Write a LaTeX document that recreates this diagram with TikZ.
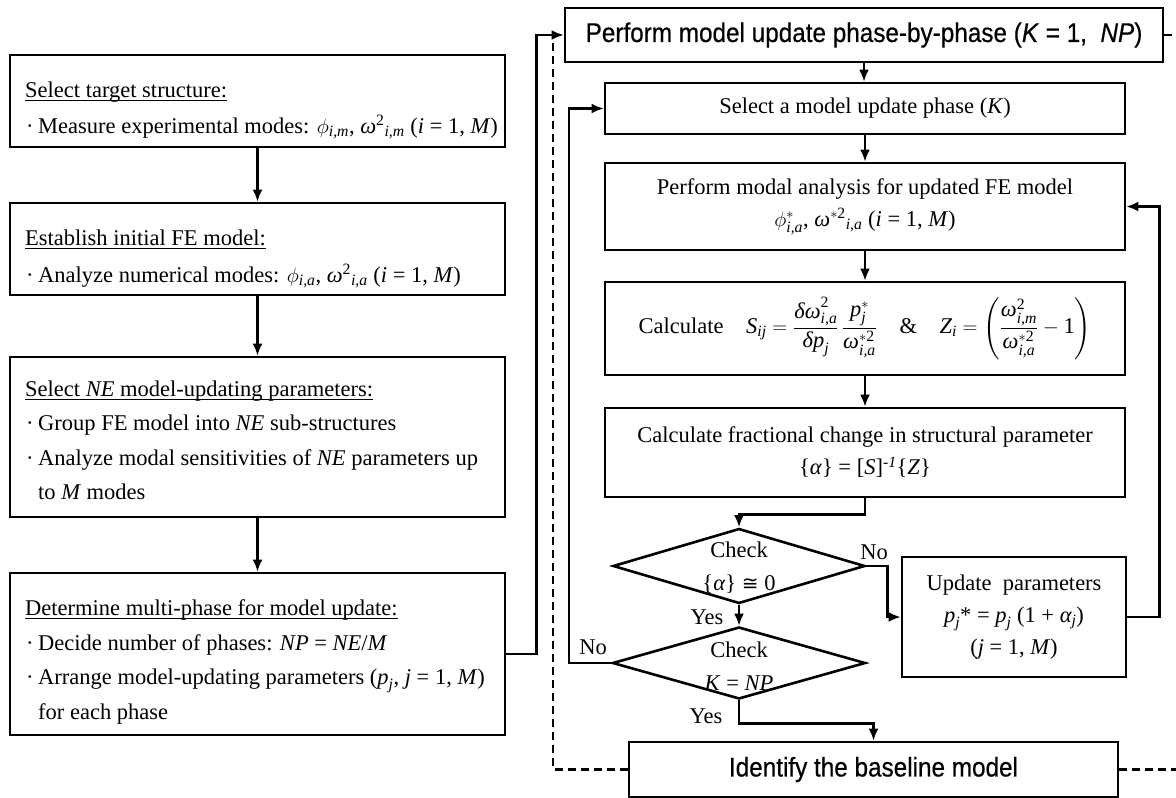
\documentclass[tikz,border=0pt]{standalone}
\usepackage{fontspec}
\usepackage{amsmath}
\setmainfont{Liberation Serif}
\setsansfont{Liberation Sans}
\newfontfamily\sfc{Liberation Sans}[FakeStretch=0.9,FakeBold=0.5]
\newfontfamily\dvs{DejaVu Sans}
\usetikzlibrary{arrows.meta,shapes.geometric}
\newcommand\mi[1]{\text{\itshape #1}}
\newcommand\mr[1]{\text{\upshape #1}}
\newcommand\ulh[1]{\setbox0\hbox{#1}\rlap{\rule[-4pt]{\wd0}{1.4pt}}\box0}
\newcommand\bul{\makebox[13pt][l]{\hspace{1pt}·}}
\tikzset{
 txt/.style={font=\fontsize{22.5}{33}\selectfont, inner sep=0pt},
 bx/.style={draw, line width=2.6pt, inner sep=0pt, align=center, font=\fontsize{22.5}{32}\selectfont},
 sbx/.style={bx, font=\sfc\fontsize{27}{30}\selectfont},
 dia/.style={draw, diamond, line width=2.6pt, inner sep=0pt},
 arr/.style={line width=2.4pt, -{Latex[length=12pt,width=10pt]}},
 dsh/.style={line width=2.4pt, dash pattern=on 8pt off 5pt},
 lt/.style={txt, anchor=base west},
}
\begin{document}
\begin{tikzpicture}[x=1pt,y=-1pt]
\useasboundingbox (0,0) rectangle (1176,798);
% left column
\node[bx, minimum width=495, minimum height=92] (b1) at (257.5,101) {};
\node[lt] (b1h) at (25,97) {\ulh{Select target structure:}};
\node[lt] (b1a) at (25,133) {\bul Measure experimental modes: $\phi_{\mi{i,m}}$, $\mi{ω}^{\mr{2}}{}_{\mi{i,m}}$ (\textit{i} = 1, \textit{M})};
\node[bx, minimum width=495, minimum height=92] (b2) at (257.5,249) {};
\node[lt] (b2h) at (25,245) {\ulh{Establish initial FE model:}};
\node[lt] (b2a) at (25,282) {\bul Analyze numerical modes: $\phi_{\mi{i,a}}$, $\mi{ω}^{\mr{2}}{}_{\mi{i,a}}$ (\textit{i} = 1, \textit{M})};
\node[bx, minimum width=495, minimum height=160] (b3) at (257.5,437) {};
\node[lt] (b3h) at (25,396) {\ulh{Select \textit{NE} model-updating parameters:}};
\node[lt] (b3a) at (25,430) {\bul Group FE model into \textit{NE} sub-structures};
\node[lt] (b3b) at (25,465) {\bul Analyze modal sensitivities of \textit{NE} parameters up};
\node[lt] (b3c) at (38,499) {to \textit{M} modes};
\node[bx, minimum width=495, minimum height=162] (b4) at (257.5,654) {};
\node[lt] (b4h) at (25,615) {\ulh{Determine multi-phase for model update:}};
\node[lt] (b4a) at (25,650) {\bul Decide number of phases: \textit{NP} = \textit{NE}/\textit{M}};
\node[lt] (b4b) at (25,684) {\bul Arrange model-updating parameters ($\mi{p}_{\mi{j}}$, \textit{j} = 1, \textit{M})};
\node[lt] (b4c) at (38,719) {for each phase};
% right column
\node[sbx, minimum width=598, minimum height=54] (top) at (864,35) {Perform model update phase-by-phase (\textit{K} = 1,\ \ \textit{NP})};
\node[bx, minimum width=520, minimum height=51] (sel) at (865,108.5) {Select a model update phase (\textit{K})};
\node[bx, minimum width=520, minimum height=87] (mod) at (865,206.5) {Perform modal analysis for updated FE model\\ $\phi^{*}_{\mi{i,a}}$, $\mi{ω}^{*\mr{2}}{}_{\mi{i,a}}$ (\textit{i} = 1, \textit{M})};
\node[bx, minimum width=520, minimum height=93] (calc) at (865,328.5) {Calculate\quad $\mi{S}_{\mi{ij}} = \dfrac{\mi{δω}^{\mr{2}}_{\mi{i,a}}}{\mi{δp}_{\mi{j}}}\,\dfrac{\mi{p}^{*}_{\mi{j}}}{\mi{ω}^{*\mr{2}}_{\mi{i,a}}}$\quad\&\quad $\mi{Z}_{\mi{i}} = \left(\dfrac{\mi{ω}^{\mr{2}}_{\mi{i,m}}}{\mi{ω}^{*\mr{2}}_{\mi{i,a}}} - \mr{1}\right)$};
\node[bx, minimum width=520, minimum height=89] (frc) at (865,452.5) {Calculate fractional change in structural parameter\\ \{\textit{α}\} = [\textit{S}]\textsuperscript{\textit{-1}}\{\textit{Z}\}};
\node[dia, minimum width=252, minimum height=75] (d1) at (739,566) {};
\node[txt, align=center] (d1t) at (739,568) {Check\\ \{\textit{α}\} {\dvs\fontsize{20}{20}\selectfont ≅} 0};
\node[dia, minimum width=253, minimum height=72] (d2) at (739,663) {};
\node[txt, align=center] (d2t) at (739,666) {Check\\ \textit{K} = \textit{NP}};
\node[bx, minimum width=224, minimum height=120] (upd) at (1014,617) {Update\ \ parameters\\ $\mi{p}_{\mi{j}}$* = $\mi{p}_{\mi{j}}$ (1 + $\mi{α}_{\mi{j}}$)\\ (\textit{j} = 1, \textit{M})};
\node[sbx, minimum width=489, minimum height=55] (idf) at (873.5,769.5) {Identify the baseline model};
% labels
\node[txt] (no1) at (874,552) {No};
\node[txt] (yes1) at (707,617) {Yes};
\node[txt] (no2) at (593,647) {No};
\node[txt] (yes2) at (706,716) {Yes};
% connectors
\draw[arr] (b1.south) -- (b2.north);
\draw[arr] (b2.south) -- (b3.north);
\draw[arr] (b3.south) -- (b4.north);
\draw[arr] (b4.east) -- ++(30,0) |- (top.west);
\draw[arr] (top.south) -- (top.south |- sel.north);
\draw[arr] (sel.south) -- (mod.north);
\draw[arr] (mod.south) -- (calc.north);
\draw[arr] (calc.south) -- (frc.north);
\draw[arr] (frc.south) -- ++(0,16) -| (d1.north);
\draw[arr] (d1.east) -- ++(21,0) |- (upd.west);
\draw[arr] (upd.east) -- ++(32,0) |- (mod.east);
\draw[arr] (d1.south) -- (d2.north);
\draw[arr] (d2.west) -- ++(-42,0) |- (sel.west);
\draw[arr] (d2.south) -- ++(0,23) -| (idf.north);
\coordinate (dtop) at (553,35);
\coordinate (rt1) at (1190,35);
\coordinate (rt2) at (1190,769.5);
\draw[dsh] (idf.west) -| (dtop);
\draw[dsh] (top.east) -- (rt1);
\draw[dsh] (idf.east) -- (rt2);
\end{tikzpicture}
\end{document}
